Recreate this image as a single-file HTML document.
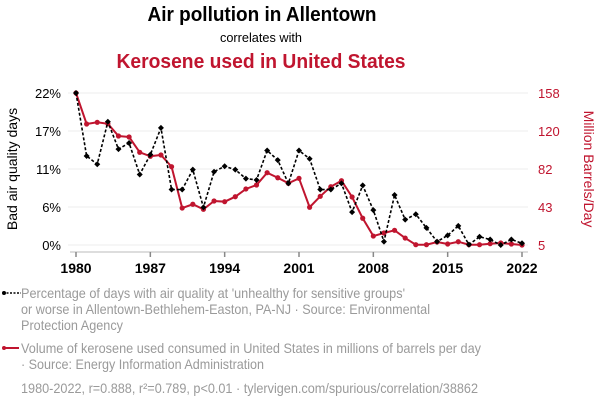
<!DOCTYPE html>
<html><head><meta charset="utf-8"><style>
body{margin:0;background:#fff}
svg{display:block;font-family:"Liberation Sans",Arial,sans-serif}
</style></head><body>
<svg id="chart" width="600" height="408" viewBox="0 0 600 408">
<text x="262" y="21" text-anchor="middle" font-size="20" font-weight="bold" fill="#000" textLength="229" lengthAdjust="spacingAndGlyphs">Air pollution in Allentown</text>
<text x="261" y="42" text-anchor="middle" font-size="13" fill="#000" textLength="82" lengthAdjust="spacingAndGlyphs">correlates with</text>
<text x="261" y="68" text-anchor="middle" font-size="20" font-weight="bold" fill="#c0152f" textLength="289" lengthAdjust="spacingAndGlyphs">Kerosene used in United States</text>
<g id="grid"></g>
<g id="axes"></g>
<g id="series"></g>
<text transform="translate(17,169) rotate(-90)" text-anchor="middle" font-size="14" fill="#000">Bad air quality days</text>
<text transform="translate(584,169) rotate(90)" text-anchor="middle" font-size="14" fill="#c0152f">Million Barrels/Day</text>
<g>
<line x1="3" y1="293" x2="21" y2="293" stroke="#000" stroke-width="1.5" stroke-dasharray="2,1.5"/>
<circle cx="4" cy="293" r="2" fill="#000"/>
<text font-size="14" fill="#9a9a9a" lengthAdjust="spacingAndGlyphs"><tspan x="21" y="298" textLength="384" lengthAdjust="spacingAndGlyphs">Percentage of days with air quality at 'unhealthy for sensitive groups'</tspan><tspan x="21" y="314" textLength="409" lengthAdjust="spacingAndGlyphs">or worse in Allentown-Bethlehem-Easton, PA-NJ · Source: Environmental</tspan><tspan x="21" y="330" textLength="102" lengthAdjust="spacingAndGlyphs">Protection Agency</tspan></text>
<line x1="3" y1="348" x2="19" y2="348" stroke="#c0152f" stroke-width="2"/>
<circle cx="4" cy="348" r="2" fill="#c0152f"/>
<text font-size="14" fill="#9a9a9a"><tspan x="21" y="353" textLength="460" lengthAdjust="spacingAndGlyphs">Volume of kerosene used consumed in United States in millions of barrels per day</tspan><tspan x="21" y="369" textLength="243" lengthAdjust="spacingAndGlyphs">· Source: Energy Information Administration</tspan></text>
<text x="21" y="393" font-size="14" fill="#9a9a9a" textLength="457" lengthAdjust="spacingAndGlyphs">1980-2022, r=0.888, r²=0.789, p&lt;0.01 · tylervigen.com/spurious/correlation/38862</text>
</g>
</svg>
<script>
const years = [];
for (let y = 1980; y <= 2022; y++) years.push(y);
const airPct = [22.2,13.0,11.8,18.0,14.0,14.9,10.3,13.2,17.1,8.1,8.1,11.0,5.5,10.7,11.5,11.0,9.7,9.5,13.8,12.4,9.0,13.8,12.6,8.1,8.1,9.0,4.8,8.7,5.1,0.5,7.3,3.7,4.5,2.5,0.5,1.4,2.8,0.05,1.2,0.8,0,0.8,0.25];
const kerosene = [158,126.8,128.5,127,114.7,113.7,98.3,94.3,95.6,83.8,42.2,46,40.9,49.3,48.6,53.6,61.4,65.4,77.8,72.7,67.1,72.1,43,54,63.7,69.7,53.3,31.9,14,17.1,19.8,12,5.3,5.3,8,6,8.3,5.3,5.3,6.3,7,6,5];
const leftTicks = [0,5.55,11.1,16.65,22.2];
const leftTickLabels = ["0%","6%","11%","17%","22%"];
const rightTicks = [5,43.25,81.5,119.75,158];
const rightTickLabels = ["5","43","82","120","158"];
const xTicks = [1980,1987,1994,2001,2008,2015,2022];

const NS = "http://www.w3.org/2000/svg";
const X0 = 76, X1 = 522, YB = 245, YT = 93;
const xS = y => X0 + (y - 1980) / (2022 - 1980) * (X1 - X0);
const yL = v => YB - v / 22.2 * (YB - YT);
const yR = v => YB - (v - 5) / (158 - 5) * (YB - YT);
function mk(tag, attrs, parent) {
  const e = document.createElementNS(NS, tag);
  for (const k in attrs) e.setAttribute(k, attrs[k]);
  parent.appendChild(e);
  return e;
}
const grid = document.getElementById('grid');
const axes = document.getElementById('axes');
const series = document.getElementById('series');

leftTicks.forEach((t, i) => {
  const l = mk('line', {x1: 68, x2: 528, y1: yL(t), y2: yL(t), stroke: '#eee', 'stroke-width': 1}, grid);
  
  
  const tx = mk('text', {x: 61, y: yL(t) + 5, 'text-anchor': 'end', 'font-size': 13, fill: '#000'}, axes);
  tx.textContent = leftTickLabels[i];
  
  
});
rightTicks.forEach((t, i) => {
  const tx = mk('text', {x: 538, y: yR(t) + 5, 'font-size': 13, fill: '#c0152f'}, axes);
  tx.textContent = rightTickLabels[i];
  
  
});
const ax = mk('line', {x1: 70, x2: 528, y1: 252, y2: 252, stroke: '#bbb', 'stroke-width': 1}, axes);


xTicks.forEach(t => {
  const tk = mk('line', {x1: xS(t), x2: xS(t), y1: 252, y2: 257, stroke: '#888', 'stroke-width': 1.5}, axes);
  
  
  const tx = mk('text', {x: xS(t), y: 273, 'text-anchor': 'middle', 'font-size': 14, 'font-weight': 'bold', fill: '#000'}, axes);
  tx.textContent = t;
  
  
});

const redPts = years.map((y, i) => xS(y) + ',' + yR(kerosene[i])).join(' ');
const rl = mk('polyline', {points: redPts, fill: 'none', stroke: '#c0152f', 'stroke-width': 2}, series);


years.forEach((y, i) => {
  const c = mk('circle', {cx: xS(y), cy: yR(kerosene[i]), r: 2.6, fill: '#c0152f'}, series);
  
  
});
const blkPts = years.map((y, i) => xS(y) + ',' + yL(airPct[i])).join(' ');
const bl = mk('polyline', {points: blkPts, fill: 'none', stroke: '#000', 'stroke-width': 1.6, 'stroke-dasharray': '3,2'}, series);


years.forEach((y, i) => {
  const cx = xS(y), cy = yL(airPct[i]);
  const d = mk('polygon', {points: `${cx},${cy-3} ${cx+3},${cy} ${cx},${cy+3} ${cx-3},${cy}`, fill: '#000'}, series);
  
  
});
</script>
</body></html>
